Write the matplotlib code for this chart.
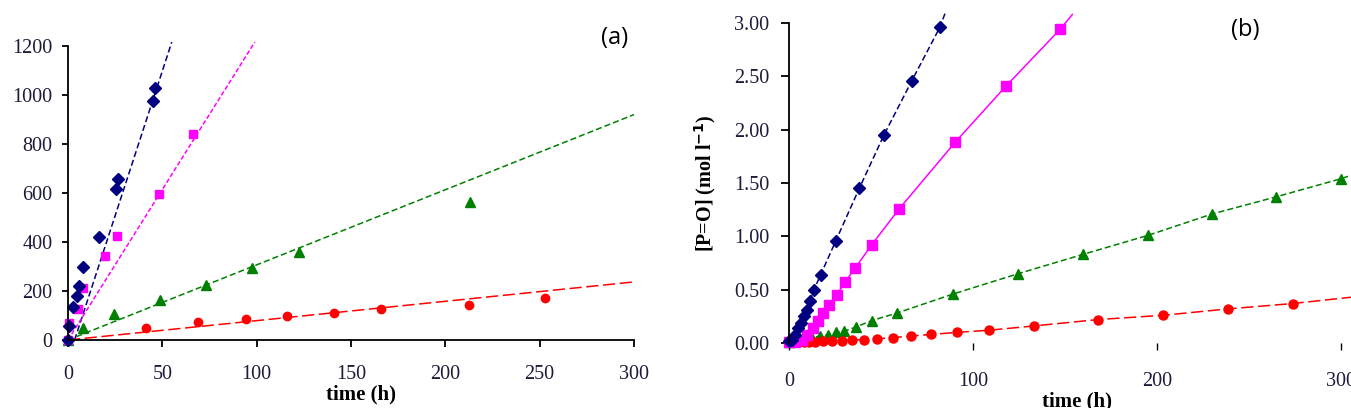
import numpy as np
import matplotlib
matplotlib.use('Agg')
import matplotlib.pyplot as plt

# ---- panel (a) data (time in h) ----
a_blue_t = [0, 0.5, 2.5, 4.6, 6, 8.1, 16.6, 25.3, 26.5, 44.9, 46.1]
a_blue_y = [0, 57, 135, 180, 222, 299, 420, 616, 657, 975, 1027]
a_pink_t = [0, 0.5, 5.5, 7.8, 19.6, 26, 48.4, 66.4]
a_pink_y = [0, 69, 126, 212, 344, 424, 596, 841]
a_green_t = [0, 8.1, 24.6, 48.8, 73, 97.3, 122.4, 213]
a_green_y = [0, 48, 106, 163, 224, 292, 360, 564]
a_red_t = [0, 41.2, 68.7, 94.2, 116, 141, 165.7, 212.7, 253]
a_red_y = [0, 48, 75, 86, 98, 111, 128, 143, 170]

# fitted lines (a): end points
a_fit_blue = ([3.5, 55], [0, 1216])
a_fit_pink = ([0, 99], [0, 1216])
a_fit_green = ([0, 300], [0, 920])
a_fit_red = ([0, 300], [0, 237])

# ---- panel (b) data ----
b_blue_t = [0, 1.4, 3.3, 5.1, 6.3, 8.2, 9.6, 11.4, 13.6, 17.2, 25.5, 38.2, 51.6, 66.8, 82]
b_blue_v = [0.02, 0.03, 0.075, 0.14, 0.19, 0.25, 0.31, 0.39, 0.50, 0.64, 0.96, 1.45, 1.95, 2.46, 2.96]
b_pink_t = [0, 3.3, 6.9, 10, 13.2, 16, 18.7, 21.9, 25.9, 30.4, 35.9, 44.9, 60, 90.2, 118, 147.3]
b_pink_v = [0.01, 0.01, 0.03, 0.075, 0.14, 0.21, 0.28, 0.36, 0.45, 0.57, 0.70, 0.92, 1.26, 1.88, 2.41, 2.94]
b_green_t = [0, 1.4, 5.1, 8.7, 12.3, 16.8, 21.4, 25.5, 29.9, 36.4, 44.9, 58.5, 89.3, 124.6, 159.6, 195.3, 230, 264.7, 300]
b_green_v = [0.01, 0.015, 0.025, 0.035, 0.05, 0.065, 0.075, 0.10, 0.11, 0.15, 0.21, 0.28, 0.46, 0.65, 0.83, 1.01, 1.21, 1.37, 1.54]
b_red_t = [0, 2, 5, 8, 11, 14, 18.7, 23.2, 28.6, 34.1, 41, 47.7, 56.4, 66.1, 77.2, 91.5, 108.9, 133.2, 168.1, 203.4, 238.8, 273.8]
b_red_v = [0.01, 0.01, 0.01, 0.012, 0.012, 0.014, 0.015, 0.02, 0.02, 0.03, 0.03, 0.04, 0.05, 0.065, 0.08, 0.10, 0.12, 0.16, 0.22, 0.26, 0.32, 0.37]
# where the model curves leave the plot
b_blue_end = (84.8, 3.09)
b_pink_end = (154, 3.08)
b_green_end = (305, 1.57)
b_red_end = (306, 0.43)

navy = '#000080'
pink = '#ff00ff'
green = '#008000'
red = '#ff0000'
txt = '#1c1c3a'
fs = 14.5

plt.rcParams['font.family'] = ['Liberation Serif', 'DejaVu Serif']

fig = plt.figure(figsize=(13.51, 4.08), dpi=100)

# ---------------- (a) ----------------
ax = fig.add_axes([68/1351, 1-340/408, (634-68)/1351, (340-46)/408])
ax.plot(*a_fit_blue, color=navy, ls=(0, (4, 2)), lw=1.1, clip_on=False)
ax.plot(*a_fit_pink, color=pink, ls=(0, (3, 1.5)), lw=1.1, clip_on=False)
ax.plot(*a_fit_green, color=green, ls=(0, (4, 2)), lw=1.1, clip_on=False)
ax.plot(*a_fit_red, color=red, ls=(0, (8, 3)), lw=1.1, clip_on=False)
ax.plot(a_green_t, a_green_y, '^', color=green, ms=6.5, ls='none', clip_on=False)
ax.plot(a_red_t, a_red_y, 'o', color=red, ms=6, ls='none', clip_on=False)
ax.plot(a_pink_t, a_pink_y, 's', color=pink, ms=6, ls='none', clip_on=False)
ax.plot(a_blue_t, a_blue_y, 'D', color=navy, ms=6, ls='none', clip_on=False)
ax.set_xlim(0, 300)
ax.set_ylim(0, 1200)
ax.set_xticks(range(0, 301, 50))
ax.set_yticks(range(0, 1201, 200))
for s in ['top', 'right']:
    ax.spines[s].set_visible(False)
for s in ['left', 'bottom']:
    ax.spines[s].set_linewidth(1.3)
ax.tick_params(axis='x', direction='out', length=5, width=1.3, pad=13, labelsize=fs, labelcolor=txt)
ax.tick_params(axis='y', direction='out', length=4.3, width=1.3, pad=7, labelsize=fs, labelcolor=txt)
ax.set_xlabel('time (h)', fontsize=15, fontweight='bold', labelpad=0)
ax.xaxis.label.set_x((361-68)/566)
fig.text(615/1351, 1-38/408, '(a)', fontsize=17, family='Open Sans', ha='center', va='center')

# ---------------- (b) ----------------
bx = fig.add_axes([789/1351, 1-343/408, (1341-789)/1351, (343-23)/408])
bx.plot(b_blue_t + [b_blue_end[0]], b_blue_v + [b_blue_end[1]], color=navy, ls=(0, (4, 2)), lw=1.1, clip_on=False)
bx.plot(b_pink_t + [b_pink_end[0]], b_pink_v + [b_pink_end[1]], color=pink, ls='-', lw=1.1, clip_on=False)
bx.plot(b_green_t + [b_green_end[0]], b_green_v + [b_green_end[1]], color=green, ls=(0, (4, 2)), lw=1.1, clip_on=False)
bx.plot(b_red_t + [b_red_end[0]], b_red_v + [b_red_end[1]], color=red, ls=(0, (8, 3)), lw=1.1, clip_on=False)
bx.plot(b_green_t, b_green_v, '^', color=green, ms=6.5, ls='none', clip_on=False)
bx.plot(b_red_t, b_red_v, 'o', color=red, ms=6.5, ls='none', clip_on=False)
bx.plot(b_pink_t, b_pink_v, 's', color=pink, ms=6.5, ls='none', clip_on=False)
bx.plot(b_blue_t, b_blue_v, 'D', color=navy, ms=6, ls='none', clip_on=False)
bx.set_xlim(0, 300)
bx.set_ylim(0, 3.0)
bx.set_xticks([0, 100, 200, 300])
bx.set_yticks(np.arange(0, 3.01, 0.5))
bx.set_yticklabels(['%.2f' % v for v in np.arange(0, 3.01, 0.5)])
for s in ['top', 'right', 'bottom']:
    bx.spines[s].set_visible(False)
bx.spines['left'].set_linewidth(1.3)
bx.tick_params(axis='x', direction='out', length=5, width=1.0, pad=16, labelsize=fs, labelcolor=txt)
bx.tick_params(axis='y', direction='out', length=5.8, width=1.3, pad=8.6, labelsize=fs, labelcolor=txt)
bx.set_xlabel('time (h)', fontsize=15, fontweight='bold', labelpad=0)
bx.xaxis.label.set_x((1077-789)/552)
bx.set_ylabel('[P=O] (mol l$^{\\mathbf{-1}}$)', fontsize=14.5, fontweight='bold', labelpad=11)
fig.text(1245/1351, 1-30/408, '(b)', fontsize=17, family='Open Sans', ha='center', va='center')

fig.savefig('out.png', dpi=100)
